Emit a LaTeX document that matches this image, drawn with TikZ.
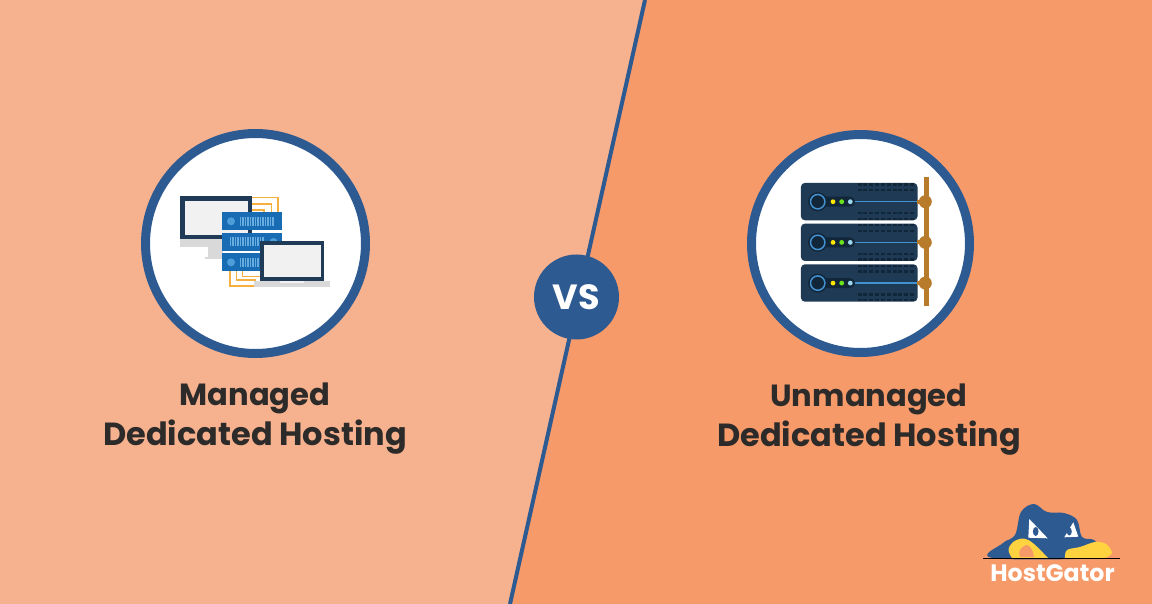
\documentclass[tikz,border=0pt]{standalone}
\usepackage{fontspec}
\setmainfont{Poppins}
\definecolor{peachlight}{RGB}{246, 178, 143}
\definecolor{peachdark}{RGB}{247, 154, 106}
\definecolor{gatorblue}{RGB}{46, 90, 146}
\definecolor{titledark}{RGB}{45, 42, 42}
\definecolor{framedark}{RGB}{31, 59, 87}
\definecolor{screengray}{RGB}{242, 241, 241}
\definecolor{standgray}{RGB}{217, 217, 217}
\definecolor{rackblue}{RGB}{24, 108, 180}
\definecolor{rackdot}{RGB}{77, 157, 217}
\definecolor{wireorange}{RGB}{245, 176, 65}
\definecolor{serverdark}{RGB}{30, 58, 84}
\definecolor{serverdeep}{RGB}{18, 38, 58}
\definecolor{busbrown}{RGB}{184, 122, 43}
\definecolor{lineblue}{RGB}{66, 145, 208}
\definecolor{gatoryellow}{RGB}{255, 210, 63}
\definecolor{baseline}{RGB}{111, 127, 159}
\usetikzlibrary{
  positioning,
}
\newcommand{\titlesmall}{\fontsize{30.6}{40}\selectfont}
\tikzset{
  ring/.style={draw=gatorblue,circle,line width=9pt,fill=white,inner sep=0,minimum size=220pt},
  title/.style={align=center,text=titledark,font=\fontsize{32}{40}\selectfont\bfseries},
  wire/.style={draw=wireorange,line width=1.1pt},
}
\begin{document}
\begin{tikzpicture}[x=1pt,y=-1pt]
      \useasboundingbox (0,0) rectangle (1152,604);
      \fill[peachlight] (0,0) rectangle (1152,604);
      \fill[peachdark] (645,0) -- (1152,0) -- (1152,604) -- (510,604) -- cycle;
      \draw[gatorblue,line width=4pt] (645,0) -- (510,604);

      \node[ring] (leftring) at (255.5,243.5) {};
      \node[ring,minimum size=218pt] (rightring) at (860.5,243.5) {};
      \node[circle,fill=gatorblue,minimum size=85pt,inner sep=0,text=white,font=\fontsize{35}{35}\selectfont\bfseries] (vs) at (576.5,297) {VS};

      \node[title] (lefttitle) at (255,418.5) {{\titlesmall Managed}\\Dedicated Hosting};
      \node[title] (righttitle) at (869,419.5) {{\titlesmall Unmanaged}\\Dedicated Hosting};

      % managed icon
      \foreach \a/\b in {197.7/278,204/271.7,210/264}
        \draw[wire] (250,\a) -- (\b,\a) -- (\b,213);
      \foreach \a/\b/\c in {230/286/256,236.7/280/256,242.7/276.7/262}
        \draw[wire] (\a,270) -- (\a,\b) -- (\c,\b);
      \fill[framedark] (180,196) rectangle (252,239);
      \fill[screengray] (185,201) rectangle (248,235.5);
      \fill[standgray] (180,239) rectangle (223,247);
      \fill[standgray] (208,247) rectangle (223,257);
      \fill[standgray] (205,257) rectangle (223,259);
      \foreach \y in {212.3,233.3,253.3}{
        \fill[rackblue] (222,\y) rectangle (282,\y+18);
      }
      \foreach \y/\dx/\sx in {221.3/231/239.5,242/273.5/229.5,262.3/231/239.5}{
        \fill[rackdot] (\dx,\y) circle (4);
        \foreach \i in {0,...,13}
          \fill[rackdot!85!white] (\sx+\i*2.5,\y-4.5) rectangle (\sx+\i*2.5+1.7,\y+4.5);
      }
      \fill[framedark] (260,241.5) rectangle (324,281);
      \fill[screengray] (264,245.5) rectangle (321,277.5);
      \fill[standgray] (254,281) rectangle (330,287);
      \fill[screengray] (280,281) rectangle (304,283);

      % unmanaged icon
      \fill[busbrown] (924.2,177.5) rectangle (929.2,306.5);
      \foreach \n/\y in {s1/182.7,s2/223.4,s3/264.1}{
        \node[draw=none,fill=serverdark,rounded corners=4pt,minimum width=116.6pt,minimum height=37.4pt,inner sep=0,anchor=north west] (\n) at (800.7,\y) {};
        \fill[busbrown] (917,\y+17) rectangle (926,\y+21);
        \fill[busbrown] (925.3,\y+19) circle (6.5);
        \foreach \r in {1.8,7.6,30.6,36.2}
          \foreach \i in {0,...,9}
            \fill[serverdeep] (857.5+\i*5.85,\y+\r-1.2) rectangle (861.5+\i*5.85,\y+\r+1.2);
        \fill[serverdeep,rounded corners=5pt] (808,\y+14) rectangle (855,\y+24);
        \fill[serverdeep] (817.7,\y+19) circle (9.5);
        \draw[lineblue,line width=1.5pt] (817.7,\y+19) circle (7.2);
        \fill[yellow!90!orange] (833,\y+19) circle (2.4);
        \fill[green!60!yellow!80!gray] (841.7,\y+19) circle (2.4);
        \fill[cyan!40!white!90!gray] (850.3,\y+19) circle (2.4);
        \draw[lineblue,line width=1.6pt] (855,\y+19) -- (917,\y+19);
      }

      % logo
      \fill[gatorblue] plot[smooth cycle,tension=0.6] coordinates {(992.7,558) (1003,543) (1015,535) (1021,512) (1034,504) (1047,512) (1064,513) (1077,520) (1082,537) (1094,540) (1100,550) (1098,558)};
      \fill[white] (1029.3,519) -- (1047.7,538.3) -- (1028.3,537.7) -- cycle;
      \fill[gatorblue] (1035.7,531.5) ellipse (2.8 and 4.5);
      \fill[white] (1073.3,522.3) -- (1078.3,536.7) -- (1064.3,537.3) -- cycle;
      \fill[gatorblue] (1069.3,531.5) ellipse (2.5 and 4);
      \fill[gatoryellow] plot[smooth,tension=0.6] coordinates {(1012,558) (1008.5,550) (1013,542) (1024,538.5) (1034,544) (1048,558)} -- cycle;
      \fill[peachdark] plot[smooth,tension=0.7] coordinates {(1020,557) (1020,550) (1027,545) (1032,550) (1034,557)} -- cycle;
      \fill[gatoryellow] plot[smooth,tension=0.6] coordinates {(1065,558) (1067,550) (1080,547) (1095,542) (1106,544) (1112,553) (1105,558)} -- cycle;
      \draw[baseline,line width=1pt] (983.3,558.7) -- (1120,558.7);
      \node[text=white,font=\fontsize{23.7}{23.7}\selectfont\bfseries,inner sep=0] (logotext) at (1052.5,573.5) {HostGator};
\end{tikzpicture}
\end{document}
